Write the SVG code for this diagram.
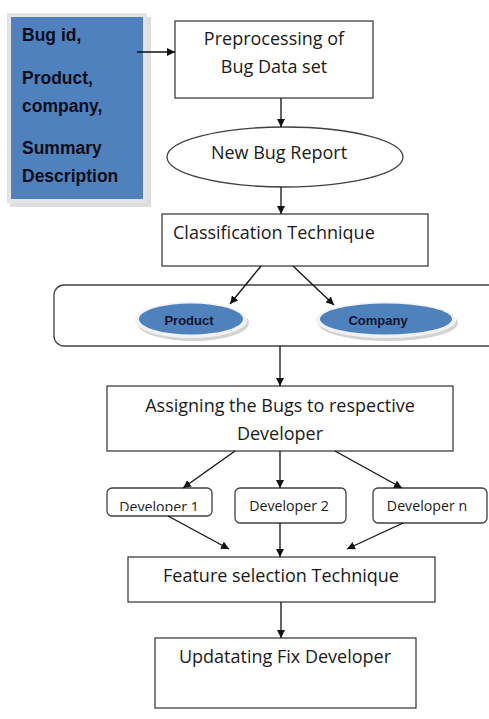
<svg xmlns="http://www.w3.org/2000/svg" width="489" height="719" viewBox="0 0 489 719">
<style>
.box{fill:#fff;stroke:#404040;stroke-width:1.3}
.t{font-family:"Open Sans","Liberation Sans",sans-serif;font-size:18px;fill:#1a1a1a;text-anchor:middle}
.d{font-family:"Open Sans","Liberation Sans",sans-serif;font-size:14.2px;fill:#1a1a1a;text-anchor:middle}
.b{font-family:"Liberation Sans",Arial,sans-serif;font-weight:bold;font-size:17.5px;fill:#0d0d1a}
.e{font-family:"Liberation Sans",Arial,sans-serif;font-weight:bold;font-size:13px;fill:#141430;text-anchor:middle}
.c line{stroke:#111;stroke-width:1.3;marker-end:url(#ah)}
</style>
<defs>
<marker id="ah" viewBox="0 0 10 10" refX="10" refY="5" markerWidth="8" markerHeight="8" markerUnits="userSpaceOnUse" orient="auto"><path d="M0,0L10,5L0,10z" fill="#111"/></marker>
<clipPath id="c1"><rect x="107" y="488" width="106" height="23"/></clipPath>
</defs>
<rect width="489" height="719" fill="#fff"/>

<g id="input">
<rect x="10" y="17" width="141" height="190" fill="#c8c8c8" opacity="0.6"/>
<rect x="7" y="13" width="140" height="190" fill="#e4e4e4"/>
<rect x="11" y="17" width="132" height="182" fill="#4f81bd"/>
<text class="b" x="22" y="41">Bug id,</text>
<text class="b" x="22" y="84">Product,</text>
<text class="b" x="22" y="112">company,</text>
<text class="b" x="22" y="154">Summary</text>
<text class="b" x="22" y="182">Description</text>
</g>

<g id="preprocessing">
<rect class="box" x="175" y="21" width="198" height="77"/>
<text class="t" x="274" y="45">Preprocessing of</text>
<text class="t" x="274" y="73">Bug Data set</text>
</g>

<g id="newbug">
<ellipse cx="285" cy="157" rx="118" ry="30" fill="#fff" stroke="#404040" stroke-width="1.3"/>
<text class="t" x="279" y="159">New Bug Report</text>
</g>

<g id="classification">
<rect class="box" x="162" y="214" width="266" height="52"/>
<text class="t" x="173" y="239" style="text-anchor:start">Classification Technique</text>
</g>

<g id="categories">
<rect x="54" y="285" width="450" height="61" rx="10" fill="#fff" stroke="#404040" stroke-width="1.3"/>
</g>

<g id="product">
<ellipse cx="193" cy="323" rx="56" ry="18" fill="#c0c0c0" opacity="0.7"/>
<ellipse cx="191" cy="320" rx="56" ry="18" fill="#f2f2f2"/>
<ellipse cx="191" cy="319" rx="52" ry="15.5" fill="#4f81bd"/>
<text class="e" x="189" y="325">Product</text>
</g>

<g id="company">
<ellipse cx="388" cy="323" rx="70" ry="18" fill="#c0c0c0" opacity="0.7"/>
<ellipse cx="386" cy="320" rx="70" ry="18" fill="#f2f2f2"/>
<ellipse cx="386" cy="319" rx="66" ry="15.5" fill="#4f81bd"/>
<text class="e" x="378" y="325">Company</text>
</g>

<g id="assigning">
<rect class="box" x="107" y="386" width="346" height="65"/>
<text class="t" x="280" y="412">Assigning the Bugs to respective</text>
<text class="t" x="280" y="440">Developer</text>
</g>

<g id="dev1">
<rect x="107" y="488" width="105" height="28" rx="5" fill="#fff" stroke="#404040" stroke-width="1.3"/>
<text class="d" x="159" y="512" clip-path="url(#c1)">Developer 1</text>
</g>

<g id="dev2">
<rect x="235" y="488" width="111" height="35" rx="5" fill="#fff" stroke="#404040" stroke-width="1.3"/>
<text class="d" x="289" y="511">Developer 2</text>
</g>

<g id="devn">
<rect x="373" y="488" width="114" height="35" rx="5" fill="#fff" stroke="#404040" stroke-width="1.3"/>
<text class="d" x="427" y="511">Developer n</text>
</g>

<g id="feature">
<rect class="box" x="128" y="557" width="307" height="45"/>
<text class="t" x="281" y="582">Feature selection Technique</text>
</g>

<g id="updating">
<rect class="box" x="155" y="638" width="261" height="70"/>
<text class="t" x="285" y="663">Updatating Fix Developer</text>
</g>

<g id="connectors" class="c">
<line x1="137" y1="52" x2="175" y2="52"/>
<line x1="281" y1="98" x2="281" y2="127"/>
<line x1="281" y1="187" x2="281" y2="214"/>
<line x1="261" y1="266" x2="230" y2="304"/>
<line x1="293" y1="266" x2="334" y2="305"/>
<line x1="280" y1="346" x2="280" y2="386"/>
<line x1="235" y1="451" x2="183" y2="488"/>
<line x1="280" y1="451" x2="280" y2="488"/>
<line x1="335" y1="451" x2="402" y2="488"/>
<line x1="168" y1="516" x2="229" y2="549"/>
<line x1="280" y1="523" x2="280" y2="557"/>
<line x1="403" y1="523" x2="347" y2="549"/>
<line x1="281" y1="602" x2="281" y2="638"/>
</g>
</svg>
